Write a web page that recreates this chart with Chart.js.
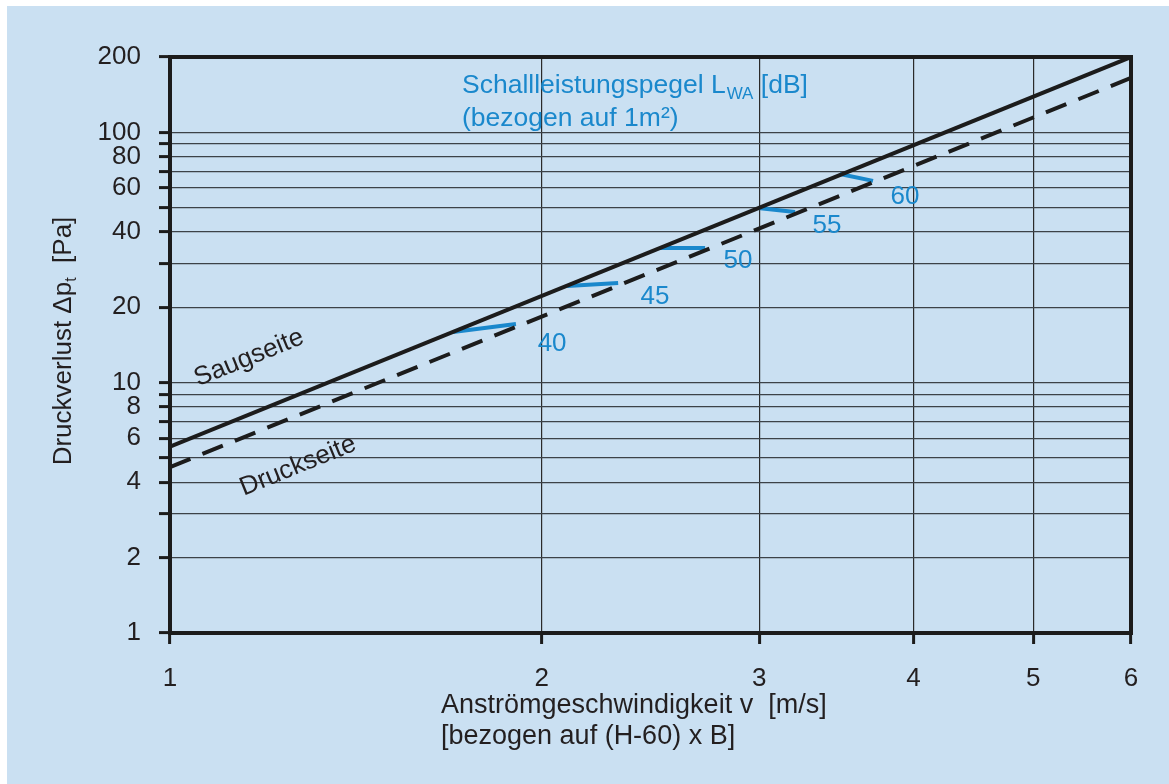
<!DOCTYPE html>
<html><head><meta charset="utf-8">
<script src="https://cdn.jsdelivr.net/npm/chart.js@4/dist/chart.umd.min.js"></script>
<style>html,body{margin:0;padding:0;background:#fff;overflow:hidden}#wrap{width:1169px;height:784px}</style>
</head><body><div id="wrap"><canvas id="c" width="1169" height="784"></canvas></div>
<script>
// ---- data ----
const vEnds = [1, 6];                       // Anströmgeschwindigkeit v [m/s]
const saugseite = [5.55, 200];              // Δp_t [Pa], solid line
const druckseite = [4.6, 165];              // Δp_t [Pa], dashed line
const lwaLabels = ['40', '45', '50', '55', '60'];   // Schallleistungspegel L_WA [dB]
const lwaStartV = [1.695, 2.097, 2.493, 2.993, 3.487];
const lwaStartP = [15.94, 24.34, 34.5, 49.9, 68.2];
const lwaEndV = [1.906, 2.306, 2.712, 3.207, 3.709];
const lwaEndP = [17.16, 25.02, 34.5, 48.1, 64.0];
const lwaLabelV = [2.039, 2.470, 2.884, 3.404, 3.937];
const lwaLabelP = [14.28, 22.0, 30.6, 42.3, 55.2];
const xTicks = [1, 2, 3, 4, 5, 6];
const yTicks = [1, 2, 3, 4, 5, 6, 7, 8, 9, 10, 20, 30, 40, 50, 60, 70, 80, 90, 100, 200];
const yTickLabels = [1, 2, 4, 6, 8, 10, 20, 40, 60, 80, 100, 200];

// ---- styles ----
const BG = '#cae0f2', INK = '#1c1c1c', TXT = '#231f20', BLUE = '#1a88cc';
const FONT = '"Liberation Sans", Arial, sans-serif';

const pts = (xs, ys) => xs.map((x, i) => ({x, y: ys[i]}));
const datasets = [
  {data: pts(vEnds, saugseite), borderColor: INK, borderWidth: 4},
  {data: pts(vEnds, druckseite), borderColor: INK, borderWidth: 4, borderDash: [22, 13]}
];
lwaLabels.forEach((l, i) => datasets.push({
  data: [{x: lwaStartV[i], y: lwaStartP[i]}, {x: lwaEndV[i], y: lwaEndP[i]}],
  borderColor: BLUE, borderWidth: 4
}));
datasets.forEach(d => { d.showLine = true; d.pointRadius = 0; d.fill = false; d.tension = 0; });

const annot = {
  id: 'annot',
  beforeDraw(chart) {
    const c = chart.ctx;
    c.save();
    c.fillStyle = '#fff'; c.fillRect(0, 0, chart.width, chart.height);
    c.fillStyle = BG; c.fillRect(7, 6, chart.width - 7, chart.height - 6);
    c.restore();
  },
  afterDraw(chart) {
    const c = chart.ctx, xs = chart.scales.x, ys = chart.scales.y, a = chart.chartArea;
    c.save();
    c.strokeStyle = INK; c.lineWidth = 4;
    c.strokeRect(a.left, a.top, a.right - a.left, a.bottom - a.top);

    // L_WA numbers
    c.fillStyle = BLUE; c.font = '26px ' + FONT; c.textAlign = 'center'; c.textBaseline = 'middle';
    lwaLabels.forEach((t, i) => c.fillText(t, xs.getPixelForValue(lwaLabelV[i]), ys.getPixelForValue(lwaLabelP[i])));

    // blue heading
    c.textAlign = 'left'; c.textBaseline = 'alphabetic';
    let x = 462;
    const p1 = 'Schallleistungspegel L';
    c.font = '26.5px ' + FONT; c.fillText(p1, x, 93); x += c.measureText(p1).width;
    c.font = '17px ' + FONT; c.fillText('WA', x + 1, 99); x += c.measureText('WA').width + 1;
    c.font = '26.5px ' + FONT; c.fillText(' [dB]', x, 93);
    c.fillText('(bezogen auf 1m\u00B2)', 462, 126);

    // line names
    const ang = Math.atan2(ys.getPixelForValue(saugseite[1]) - ys.getPixelForValue(saugseite[0]),
                           xs.getPixelForValue(vEnds[1]) - xs.getPixelForValue(vEnds[0]));
    c.fillStyle = TXT; c.font = '26px ' + FONT; c.textAlign = 'center'; c.textBaseline = 'middle';
    [['Saugseite', 249, 358], ['Druckseite', 298, 466]].forEach(([t, px, py]) => {
      c.save(); c.translate(px, py); c.rotate(ang); c.fillText(t, 0, 0); c.restore();
    });

    // x title
    c.font = '27px ' + FONT; c.textAlign = 'left'; c.textBaseline = 'alphabetic';
    c.fillText('Anstr\u00F6mgeschwindigkeit v  [m/s]', 441, 713);
    c.fillText('[bezogen auf (H-60) x B]', 441, 744);

    // y title
    c.save(); c.translate(71, 341); c.rotate(-Math.PI / 2);
    const a1 = 'Druckverlust \u0394p', a2 = 't', a3 = '  [Pa]';
    c.font = '26px ' + FONT; const w1 = c.measureText(a1).width, w3 = c.measureText(a3).width;
    c.font = '16px ' + FONT; const w2 = c.measureText(a2).width;
    let sx = -(w1 + w2 + w3) / 2;
    c.font = '26px ' + FONT; c.fillText(a1, sx, 0); sx += w1;
    c.font = '16px ' + FONT; c.fillText(a2, sx, 5); sx += w2;
    c.font = '26px ' + FONT; c.fillText(a3, sx, 0);
    c.restore();
    c.restore();
  }
};

new Chart(document.getElementById('c'), {
  type: 'scatter',
  data: {datasets},
  options: {
    responsive: false, animation: false, devicePixelRatio: 1,
    layout: {padding: {top: 57, right: 38, left: 0, bottom: 0}},
    plugins: {legend: {display: false}, tooltip: {enabled: false}},
    scales: {
      x: {
        type: 'logarithmic', position: 'bottom', min: 1, max: 6,
        afterBuildTicks: s => { s.ticks = xTicks.map(v => ({value: v})); },
        afterFit: s => { s.height = 151; },
        ticks: {autoSkip: false, maxRotation: 0, padding: 19, color: TXT, font: {family: FONT, size: 26},
                callback: v => String(v)},
        grid: {color: '#2a2a2a', lineWidth: 1.2, drawTicks: true, tickLength: 11, tickColor: INK, tickWidth: 3},
        border: {display: true, color: INK, width: 4}
      },
      y: {
        type: 'logarithmic', position: 'left', min: 1, max: 200,
        afterBuildTicks: s => { s.ticks = yTicks.map(v => ({value: v})); },
        afterFit: s => { s.width = 170; },
        ticks: {autoSkip: false, padding: 18, color: TXT, font: {family: FONT, size: 26},
                callback: v => yTickLabels.includes(v) ? String(v) : ''},
        grid: {color: '#3c4248', lineWidth: 1.2, drawTicks: true, tickLength: 11, tickColor: INK, tickWidth: 3},
        border: {display: true, color: INK, width: 4}
      }
    }
  },
  plugins: [annot]
});
</script>
</body></html>
